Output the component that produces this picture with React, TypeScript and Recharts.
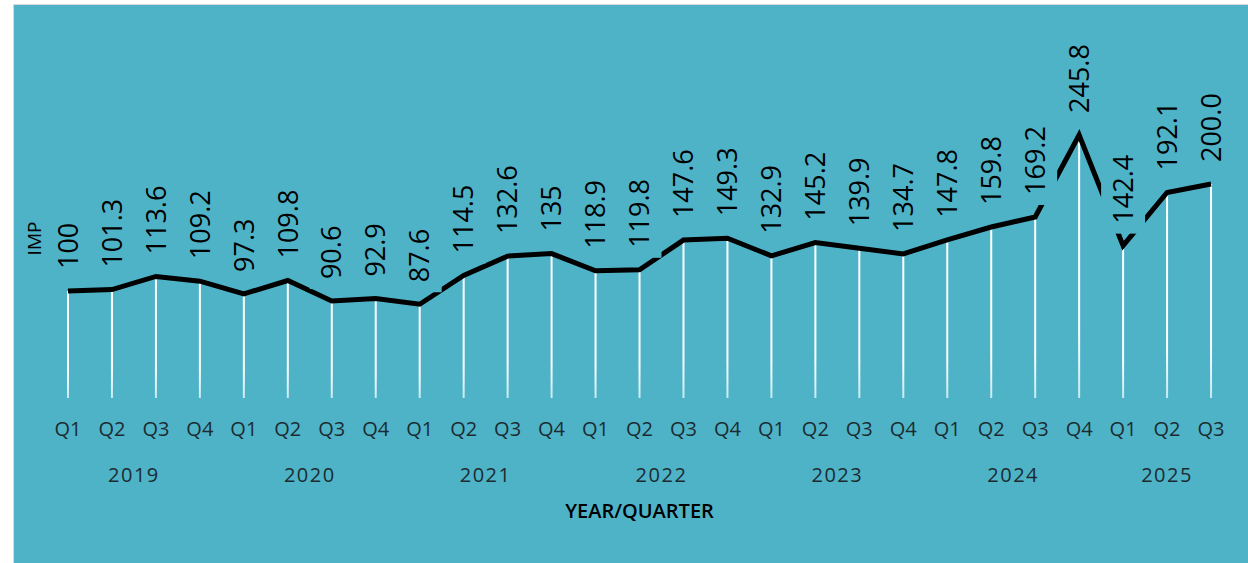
import React from "react";
import {
  ComposedChart,
  Bar,
  Line,
  XAxis,
  YAxis,
  LabelList,
  Label
} from "recharts";

const quarters = [
  "Q1", "Q2", "Q3", "Q4",
  "Q1", "Q2", "Q3", "Q4",
  "Q1", "Q2", "Q3", "Q4",
  "Q1", "Q2", "Q3", "Q4",
  "Q1", "Q2", "Q3", "Q4",
  "Q1", "Q2", "Q3", "Q4",
  "Q1", "Q2", "Q3"
];

const years = [
  "2019", "2019", "2019", "2019",
  "2020", "2020", "2020", "2020",
  "2021", "2021", "2021", "2021",
  "2022", "2022", "2022", "2022",
  "2023", "2023", "2023", "2023",
  "2024", "2024", "2024", "2024",
  "2025", "2025", "2025"
];

const impValues = [
  100, 101.3, 113.6, 109.2,
  97.3, 109.8, 90.6, 92.9,
  87.6, 114.5, 132.6, 135,
  118.9, 119.8, 147.6, 149.3,
  132.9, 145.2, 139.9, 134.7,
  147.8, 159.8, 169.2, 245.8,
  142.4, 192.1, 200.0
];

const impLabels = [
  "100", "101.3", "113.6", "109.2",
  "97.3", "109.8", "90.6", "92.9",
  "87.6", "114.5", "132.6", "135",
  "118.9", "119.8", "147.6", "149.3",
  "132.9", "145.2", "139.9", "134.7",
  "147.8", "159.8", "169.2", "245.8",
  "142.4", "192.1", "200.0"
];

const data = quarters.map((q, i) => ({
  key: `${years[i]}-${q}`,
  quarter: q,
  year: years[i],
  imp: impValues[i],
  label: impLabels[i]
}));

const BG = "#4fb3c8";
const FONT = "'Open Sans', 'Noto Sans', sans-serif";
const LABEL_SIZE = 27;

// rough text length for Open Sans digits / dot
const textLen = (s: string) =>
  s.split("").reduce((acc, c) => acc + (c === "." ? 0.266 : 0.572), 0) * LABEL_SIZE;

const ValueLabel = (props: any) => {
  const vb = props.viewBox || {};
  const x = props.x ?? vb.x;
  const y = props.y ?? vb.y;
  const value = String(props.value);
  if (x == null || y == null) return null;
  const gap = 22;
  const len = textLen(value);
  const by = y - gap;
  return (
    <g>
      <rect x={x - 22} y={by - len - 10} width={44} height={len + 20} fill={BG} />
      <text
        x={x}
        y={by}
        dy="0.36em"
        transform={`rotate(-90 ${x} ${by})`}
        textAnchor="start"
        fontFamily={FONT}
        fontSize={LABEL_SIZE}
        fill="#000"
      >
        {value}
      </text>
    </g>
  );
};

const QuarterTick = (props: any) => {
  const { x, y, payload } = props;
  const i = payload.index;
  const half = payload.offset || 22;
  const yr = years[i];
  const isFirst = i === 0 || years[i - 1] !== yr;
  const count = years.filter((v) => v === yr).length;
  return (
    <g>
      <text
        x={x}
        y={y + 38}
        textAnchor="middle"
        fontFamily={FONT}
        fontSize={20}
        fill="#1b2b30"
      >
        {quarters[i]}
      </text>
      {isFirst && (
        <text
          x={x + (count - 1) * half}
          y={y + 84}
          textAnchor="middle"
          fontFamily={FONT}
          fontSize={20}
          letterSpacing={1.5}
          fill="#1b2b30"
        >
          {yr}
        </text>
      )}
    </g>
  );
};

export default function App() {
  return (
    <div style={{ position: "absolute", left: 0, top: 0, width: 1248, height: 563, background: "#fff" }}>
      <div
        style={{
          position: "absolute",
          left: 13,
          top: 4,
          width: 1235,
          height: 559,
          boxSizing: "border-box",
          borderLeft: "1px solid #d9d9d9",
          borderTop: "1px solid #d9d9d9",
          background: BG
        }}
      >
        <ComposedChart
          width={1234}
          height={558}
          data={data}
          margin={{ top: 72, right: 15, bottom: 40, left: 0 }}
        >
          <defs>
            <linearGradient id="dropFade" x1="0" y1="0" x2="0" y2="1">
              <stop offset="0%" stopColor="#ffffff" />
              <stop offset="75%" stopColor="#ffffff" />
              <stop offset="100%" stopColor="#c6e9f0" />
            </linearGradient>
          </defs>
          <XAxis
            dataKey="key"
            interval={0}
            axisLine={false}
            tickLine={false}
            tickSize={0}
            tickMargin={0}
            height={125}
            tick={<QuarterTick />}
          >
            <Label
              value="YEAR/QUARTER"
              position="insideBottom"
              offset={5}
              fontFamily={FONT}
              fontSize={20}
              fontWeight={600}
              fill="#000"
            />
          </XAxis>
          <YAxis
            domain={[0, 300]}
            tick={false}
            axisLine={false}
            tickLine={false}
            width={32}
          >
            <Label
              content={(p: any) => {
                const vb = p.viewBox || { x: 0, y: 0, width: 32, height: 0 };
                const cx = vb.x + 20;
                const cy = vb.y + vb.height / 2 + 1;
                return (
                  <text
                    x={cx}
                    y={cy}
                    dy="0.36em"
                    transform={`rotate(-90 ${cx} ${cy})`}
                    textAnchor="middle"
                    fontFamily={FONT}
                    fontSize={19}
                    fill="#000"
                  >
                    IMP
                  </text>
                );
              }}
            />
          </YAxis>
          <Bar dataKey="imp" barSize={2} fill="url(#dropFade)" isAnimationActive={false} />
          <Line
            type="linear"
            dataKey="imp"
            stroke="#000"
            strokeWidth={5}
            dot={false}
            activeDot={false}
            isAnimationActive={false}
          >
            <LabelList dataKey="label" content={<ValueLabel />} />
          </Line>
        </ComposedChart>
      </div>
    </div>
  );
}
